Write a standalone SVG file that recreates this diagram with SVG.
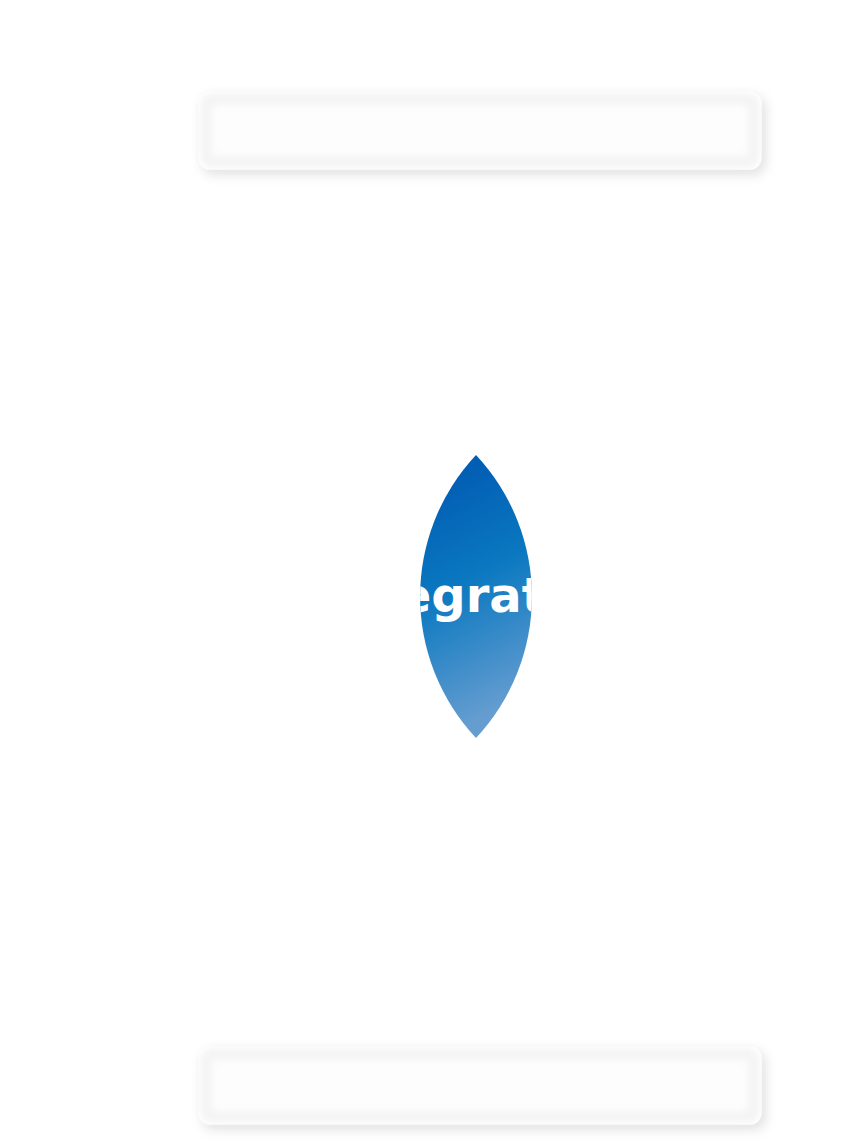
<svg xmlns="http://www.w3.org/2000/svg" width="862" height="1147" viewBox="0 0 862 1147">
<defs>
<linearGradient id="g" x1="0" y1="0" x2="0.2" y2="1">
<stop offset="0" stop-color="#0055b0"/>
<stop offset="0.5" stop-color="#0a78c0"/>
<stop offset="1" stop-color="#659dd0"/>
</linearGradient>
<filter id="sh" x="-10%" y="-40%" width="120%" height="180%">
<feDropShadow dx="4" dy="5" stdDeviation="6" flood-color="#000" flood-opacity="0.12"/>
</filter>
<filter id="inner" x="-10%" y="-40%" width="120%" height="180%">
<feGaussianBlur stdDeviation="5"/>
</filter>
<clipPath id="lens"><path d="M476,455 A207,207 0 0,1 476,738 A207,207 0 0,1 476,455Z"/></clipPath>
<style>.box{fill:#fdfdfd;stroke:#ffffff;stroke-width:3}.in{fill:none;stroke:#f0f0f0;stroke-width:8}</style>
</defs>
<rect width="862" height="1147" fill="#ffffff"/>
<g id="top">
<rect class="box" x="200" y="93" width="560" height="75" rx="10" filter="url(#sh)"/>
<rect class="in" x="206" y="99" width="548" height="63" rx="6" filter="url(#inner)"/>
</g>
<g id="bottom">
<rect class="box" x="200" y="1048" width="560" height="75" rx="10" filter="url(#sh)"/>
<rect class="in" x="206" y="1054" width="548" height="63" rx="6" filter="url(#inner)"/>
</g>
<g id="center">
<path d="M476,455 A207,207 0 0,1 476,738 A207,207 0 0,1 476,455Z" fill="url(#g)"/>
<text x="476" y="612" clip-path="url(#lens)" text-anchor="middle" font-family="DejaVu Sans, sans-serif" font-weight="bold" font-size="48" fill="#ffffff">Integration</text>
</g>
<g id="connectors"/>
</svg>
